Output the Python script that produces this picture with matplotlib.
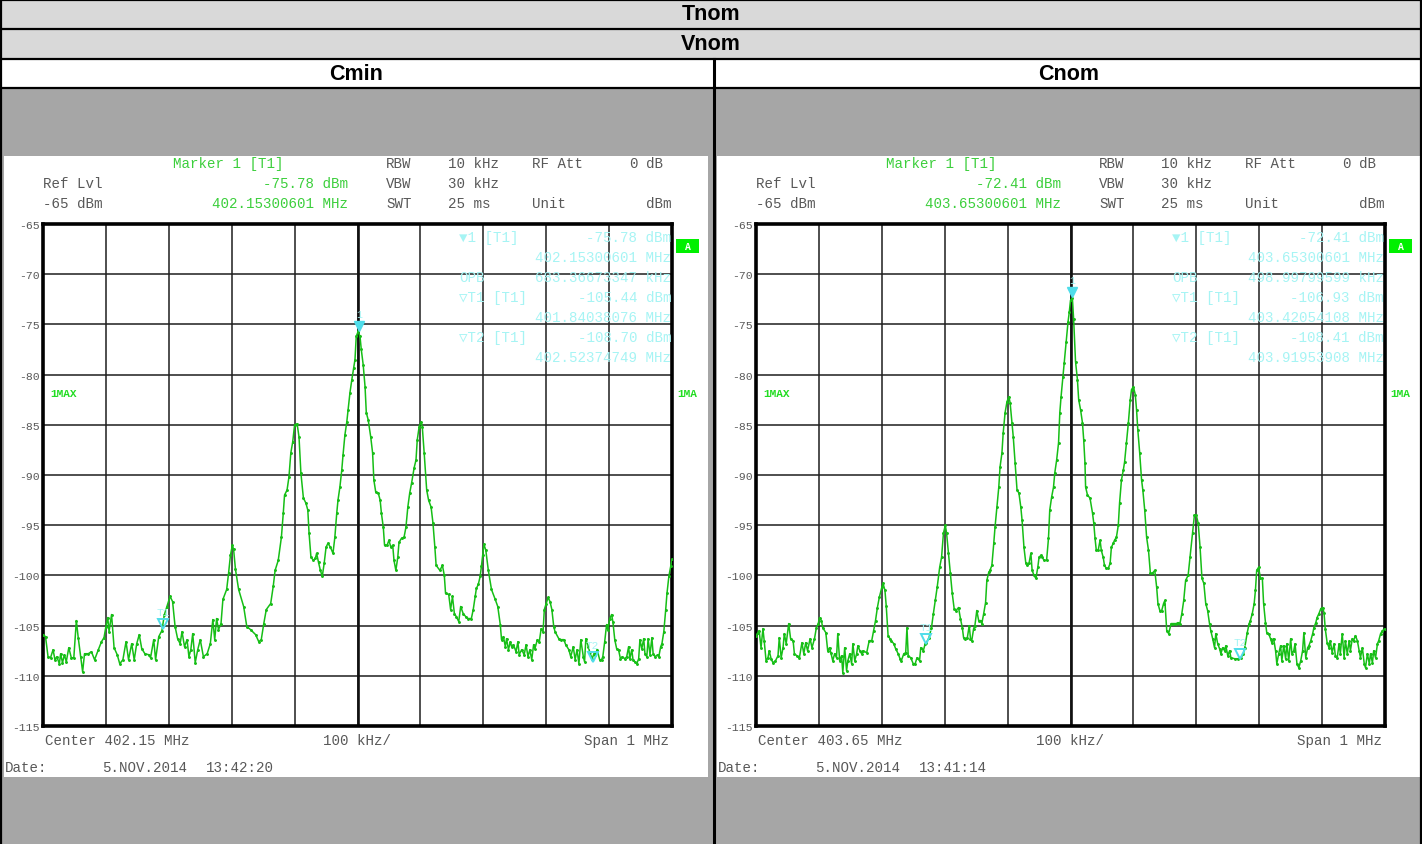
"""
Spectrum analyser screenshots (Tnom / Vnom, Cmin vs Cnom) redrawn with matplotlib.
"""
import matplotlib
matplotlib.use("Agg")
import matplotlib.pyplot as plt
from matplotlib.patches import Rectangle
from matplotlib.transforms import offset_copy

W, H = 1422, 845

# ── Data ──────────────────────────────────────────────────────────────────────
ROW_TITLES = ["Tnom", "Vnom"]
PANEL_TITLES = ["Cmin", "Cnom"]
CENTER_MHZ = [402.15, 403.65]
DATE_TEXT = "5.NOV.2014"
TIME_TEXT = ["13:42:20", "13:41:14"]
REF_LEVEL = -65
Y_TICKS = [-115, -110, -105, -100, -95, -90, -85, -80, -75, -70, -65]

MARKER1_MHZ = [402.15300601, 403.65300601]
MARKER1_DBM = [-75.78, -72.41]
T1_MHZ = [401.84038076, 403.42054108]
T1_DBM = [-105.44, -106.93]
T2_MHZ = [402.52374749, 403.91953908]
T2_DBM = [-108.70, -108.41]
OPB_KHZ = [683.36673347, 498.99799599]

# trace, Cmin (offset from centre in kHz, level in dBm)
CMIN_KHZ = [-500, -496, -492, -488, -484, -481, -478, -474, -472, -469, -466, -463,
            -459, -455, -451, -447, -444, -440, -437, -434, -428, -423, -418, -412,
            -407, -403, -400, -397, -395, -391, -387, -382, -378, -373, -368, -364,
            -359, -355, -351, -347, -343, -338, -332, -329, -324, -321, -316, -311,
            -307, -303, -298, -294, -290, -286, -282, -279, -275, -271, -268, -265,
            -262, -258, -254, -250, -245, -239, -234, -230, -227, -224, -221, -217,
            -214, -208, -205, -202, -199, -197, -194, -189, -181, -176, -170, -162,
            -157, -153, -149, -145, -138, -134, -131, -126, -121, -118, -116, -112,
            -109, -106, -103, -100, -96, -93, -90, -86, -82, -79, -77, -74,
            -70, -67, -65, -62, -59, -56, -53, -50, -47, -43, -39, -36,
            -33, -31, -28, -25, -23, -20, -17, -15, -12, -9, -6, -4,
            -2, 1, 4, 6, 9, 12, 14, 17, 21, 24, 26, 29,
            33, 36, 38, 41, 43, 47, 50, 53, 56, 58, 61, 64,
            66, 70, 74, 77, 80, 83, 86, 90, 93, 95, 98, 101,
            103, 106, 110, 113, 117, 120, 123, 125, 131, 135, 138, 140,
            145, 148, 151, 154, 157, 161, 164, 168, 172, 176, 181, 184,
            187, 189, 192, 195, 197, 199, 201, 204, 208, 213, 219, 223,
            227, 229, 232, 235, 237, 240, 243, 245, 248, 252, 255, 257,
            261, 265, 268, 271, 274, 277, 280, 282, 286, 289, 292, 295,
            297, 300, 303, 306, 309, 312, 314, 320, 323, 328, 331, 336,
            339, 343, 346, 349, 352, 355, 359, 361, 363, 367, 369, 373,
            376, 378, 381, 385, 388, 390, 393, 396, 398, 401, 404, 406,
            409, 412, 415, 418, 421, 425, 428, 431, 433, 436, 438, 441,
            444, 447, 449, 452, 455, 457, 460, 462, 465, 468, 470, 473,
            477, 479, 482, 484, 487, 490, 492, 495, 498, 500]
CMIN_DBM = [-105.9, -106.1, -108.1, -108.2, -107.4, -108.4, -108.1, -108.8, -107.8, -108.7, -107.9, -108.6,
            -107.2, -108.2, -108.2, -104.5, -106.2, -108.1, -109.6, -107.8, -107.8, -107.6, -108.4, -107.4,
            -106.6, -106.2, -105.1, -104.2, -105.6, -103.9, -107.2, -107.9, -108.8, -108.4, -106.6, -108.4,
            -106.8, -108.4, -106.8, -105.9, -107.3, -107.8, -107.9, -108.2, -106.4, -108.4, -106.1, -105.5,
            -103.9, -103.1, -102.1, -102.6, -105.1, -106.3, -106.8, -105.6, -107.1, -106.4, -108.1, -107.4,
            -105.8, -108.7, -107.4, -106.4, -108.1, -107.8, -106.8, -104.4, -106.4, -104.3, -105.4, -104.8,
            -102.4, -101.4, -99.8, -98.0, -97.0, -97.4, -99.4, -101.4, -103.1, -105.1, -105.4, -105.9,
            -106.6, -106.4, -104.8, -103.4, -102.8, -101.1, -99.5, -98.5, -96.2, -93.8, -92.0, -91.5,
            -90.2, -87.8, -86.7, -85.0, -84.9, -86.2, -89.8, -92.3, -92.8, -93.5, -95.8, -98.2,
            -98.5, -98.3, -97.8, -98.7, -99.5, -100.1, -98.8, -97.2, -96.8, -97.2, -97.8, -96.2,
            -93.8, -92.5, -91.2, -89.5, -88.0, -86.0, -84.7, -83.5, -81.8, -80.5, -79.3, -78.5,
            -76.2, -75.7, -76.2, -77.5, -79.0, -81.2, -83.8, -84.5, -86.2, -87.8, -90.5, -91.7,
            -91.8, -92.5, -93.8, -95.2, -97.0, -97.0, -96.5, -97.2, -97.0, -98.5, -99.5, -98.2,
            -96.7, -96.3, -96.2, -95.2, -93.2, -91.8, -90.8, -89.3, -88.5, -86.5, -85.2, -84.7,
            -85.2, -87.8, -91.5, -92.5, -93.2, -94.8, -97.2, -99.0, -99.5, -99.0, -100.0, -101.8,
            -101.9, -103.4, -102.1, -103.8, -104.1, -104.6, -103.1, -103.8, -104.1, -104.3, -104.3, -103.4,
            -102.1, -101.3, -100.9, -100.1, -99.1, -98.0, -96.9, -97.5, -99.5, -101.4, -102.4, -103.1,
            -104.9, -106.4, -106.1, -107.1, -106.3, -107.4, -106.6, -107.1, -106.9, -107.6, -106.6, -107.9,
            -107.4, -107.9, -106.9, -108.1, -107.4, -108.4, -106.9, -107.3, -106.4, -106.6, -105.3, -105.6,
            -103.4, -102.8, -102.2, -102.6, -103.4, -105.1, -105.6, -106.3, -106.4, -106.4, -106.9, -107.4,
            -108.1, -107.1, -108.4, -107.4, -108.8, -106.4, -108.1, -108.6, -106.3, -107.1, -107.6, -108.3,
            -107.8, -107.9, -107.4, -108.4, -108.4, -108.1, -106.6, -104.9, -105.4, -104.3, -103.9, -104.6,
            -106.4, -107.3, -107.4, -108.3, -108.1, -108.3, -108.1, -107.1, -108.3, -107.4, -108.4, -108.6,
            -108.8, -108.3, -106.4, -107.3, -106.3, -107.8, -108.1, -106.3, -107.9, -106.2, -107.8, -108.1,
            -107.9, -108.1, -107.1, -106.8, -105.6, -103.4, -101.8, -100.1, -99.1, -98.4]

# trace, Cnom
CNOM_KHZ = [-500, -497, -495, -492, -489, -487, -484, -481, -479, -476, -473, -469,
            -465, -463, -460, -457, -455, -452, -448, -445, -441, -439, -435, -431,
            -427, -424, -421, -418, -414, -411, -407, -404, -401, -399, -396, -394,
            -389, -386, -383, -381, -378, -375, -372, -370, -367, -364, -362, -359,
            -356, -354, -351, -348, -346, -343, -340, -338, -335, -332, -330, -324,
            -320, -316, -313, -310, -307, -304, -300, -298, -295, -293, -290, -287,
            -285, -281, -278, -274, -271, -269, -265, -262, -260, -258, -254, -250,
            -247, -244, -240, -238, -234, -231, -229, -225, -221, -218, -215, -212,
            -208, -205, -202, -199, -197, -194, -191, -188, -185, -182, -178, -175,
            -172, -170, -167, -164, -161, -159, -157, -154, -152, -149, -146, -143,
            -141, -138, -135, -133, -130, -128, -125, -122, -120, -117, -114, -112,
            -109, -107, -104, -101, -98, -96, -93, -91, -88, -85, -82, -79,
            -77, -74, -71, -69, -66, -63, -61, -58, -55, -52, -50, -47,
            -45, -42, -38, -35, -33, -30, -27, -25, -22, -19, -17, -15,
            -12, -10, -7, -4, -2, 0, 3, 5, 8, 11, 13, 16,
            19, 21, 23, 24, 27, 31, 35, 37, 39, 41, 44, 47,
            49, 52, 54, 57, 60, 63, 65, 68, 70, 73, 76, 78,
            81, 84, 86, 89, 92, 95, 97, 100, 103, 105, 107, 110,
            113, 115, 118, 121, 124, 127, 130, 134, 137, 139, 142, 145,
            148, 150, 153, 156, 160, 163, 168, 171, 174, 177, 180, 183,
            187, 190, 194, 197, 200, 203, 206, 209, 212, 215, 218, 221,
            223, 226, 229, 231, 234, 237, 239, 242, 245, 247, 250, 253,
            255, 261, 266, 271, 275, 277, 281, 284, 286, 289, 292, 294,
            296, 299, 302, 305, 307, 310, 312, 315, 318, 320, 323, 326,
            328, 331, 334, 336, 339, 342, 344, 347, 350, 352, 355, 357,
            360, 363, 366, 369, 371, 374, 377, 379, 382, 385, 387, 390,
            392, 395, 398, 401, 403, 405, 408, 411, 413, 416, 419, 421,
            424, 427, 429, 432, 435, 437, 440, 443, 445, 448, 450, 453,
            456, 459, 461, 464, 467, 469, 472, 475, 477, 480, 482, 485,
            488, 490, 493, 496, 500]
CNOM_DBM = [-106.0, -105.7, -105.5, -107.2, -105.3, -106.5, -108.5, -108.2, -107.5, -108.3, -108.7, -108.5,
            -108.0, -106.2, -108.2, -107.2, -105.8, -106.8, -104.8, -106.3, -106.5, -107.8, -108.0, -108.2,
            -106.7, -107.8, -106.7, -107.5, -106.3, -107.2, -106.3, -105.2, -104.8, -104.2, -104.5, -105.2,
            -105.7, -107.5, -107.2, -107.7, -108.5, -107.8, -108.2, -105.8, -108.5, -108.0, -109.7, -107.2,
            -109.5, -108.5, -107.8, -108.8, -106.8, -108.5, -107.8, -107.0, -107.5, -107.8, -107.5, -107.7,
            -106.5, -106.5, -105.5, -104.5, -103.2, -102.2, -101.2, -100.8, -101.5, -103.0, -106.0, -106.3,
            -106.5, -106.8, -107.3, -107.8, -108.3, -108.5, -107.8, -107.7, -105.2, -108.0, -108.2, -108.8,
            -108.8, -108.2, -108.5, -107.2, -107.5, -106.8, -106.7, -106.2, -105.2, -103.8, -102.5, -101.2,
            -99.2, -98.2, -95.8, -95.0, -95.8, -97.8, -99.8, -101.8, -103.3, -103.5, -103.2, -104.3,
            -105.2, -106.2, -106.3, -106.2, -105.0, -106.3, -106.5, -105.3, -105.0, -103.5, -104.5, -104.5,
            -104.8, -103.8, -102.7, -100.5, -99.7, -99.5, -99.0, -96.8, -95.2, -93.2, -91.2, -89.2,
            -87.8, -85.8, -83.8, -82.7, -82.2, -82.8, -84.8, -86.2, -88.8, -91.5, -91.8, -93.2,
            -94.5, -97.2, -98.8, -99.0, -98.8, -97.8, -99.5, -100.0, -100.3, -99.2, -98.2, -98.0,
            -98.2, -98.5, -98.5, -96.3, -93.5, -92.2, -91.2, -89.8, -88.5, -86.8, -83.8, -82.2,
            -80.2, -78.8, -76.8, -74.8, -73.8, -72.6, -72.4, -74.5, -78.7, -80.5, -82.5, -83.5,
            -84.8, -86.5, -88.8, -91.2, -92.0, -92.3, -93.8, -94.8, -96.3, -97.5, -97.5, -96.5,
            -97.5, -98.2, -99.0, -99.3, -99.3, -98.8, -97.2, -96.8, -96.5, -96.2, -95.0, -92.8,
            -90.5, -89.5, -88.7, -86.8, -84.8, -82.5, -81.5, -81.2, -82.0, -83.5, -85.5, -87.8,
            -90.5, -91.5, -93.5, -96.2, -97.5, -99.8, -99.8, -99.5, -101.2, -102.8, -103.5, -103.5,
            -102.8, -102.5, -105.5, -105.8, -104.8, -104.8, -104.8, -104.7, -104.8, -103.8, -102.5, -100.5,
            -100.0, -98.2, -95.8, -94.0, -94.0, -94.8, -97.2, -100.3, -100.8, -102.8, -103.5, -104.8,
            -105.5, -106.3, -107.2, -105.8, -106.8, -107.3, -107.8, -107.2, -107.5, -107.0, -108.0, -107.5,
            -108.2, -108.3, -108.3, -108.2, -107.8, -107.2, -105.7, -104.8, -104.5, -103.8, -102.8, -101.5,
            -99.5, -99.2, -100.3, -100.3, -102.8, -104.7, -105.7, -105.8, -106.3, -106.7, -106.3, -107.5,
            -108.8, -107.8, -107.0, -108.5, -107.0, -108.3, -106.8, -108.5, -106.3, -107.8, -107.5, -106.8,
            -108.8, -109.2, -108.5, -107.5, -105.7, -108.2, -107.2, -107.0, -106.5, -105.8, -105.2, -104.7,
            -104.2, -103.8, -103.3, -103.2, -103.7, -105.3, -106.7, -107.2, -106.5, -107.7, -106.8, -108.0,
            -108.2, -106.8, -107.8, -105.8, -108.2, -106.5, -107.8, -106.5, -107.5, -106.3, -106.5, -106.0,
            -106.5, -107.5, -108.2, -107.2, -108.8, -109.2, -107.8, -108.8, -107.8, -108.7, -107.5, -108.2,
            -106.8, -106.5, -105.8, -105.5, -105.3]

TRACES_KHZ = [CMIN_KHZ, CNOM_KHZ]
TRACES_DBM = [CMIN_DBM, CNOM_DBM]

# ── Styling ───────────────────────────────────────────────────────────────────
MONO = ["Liberation Mono", "DejaVu Sans Mono", "DejaVu Sans"]
SANS = "Liberation Sans"
C_TRACE = "#16BE16"
C_GREEN_TXT = "#3CCF3C"
C_GRAY_TXT = "#585858"
C_CYAN_TXT = "#A6F4F4"
C_CYAN_MK = "#4FDDEA"
FS = 10.2

fig = plt.figure(figsize=(W / 100, H / 100), dpi=100)
bg = fig.add_axes([0, 0, 1, 1])
bg.set_xlim(0, W)
bg.set_ylim(H, 0)
bg.axis("off")

# ── Table frame ───────────────────────────────────────────────────────────────
bg.add_patch(Rectangle((0, 0), W, 60, color="#D9D9D9", lw=0))
bg.add_patch(Rectangle((0, 60), W, 29, color="white", lw=0))
bg.add_patch(Rectangle((0, 89), W, H - 89, color="#A6A6A6", lw=0))
for y in [1, 30, 60, 89]:
    bg.plot([0, W], [y, y], color="black", lw=1.6, solid_capstyle="butt")
bg.plot([1, 1], [0, H], color="black", lw=1.6)
bg.plot([W - 1, W - 1], [0, H], color="black", lw=1.6)
bg.plot([714, 714], [60, H], color="black", lw=2.2)

for i, title in enumerate(ROW_TITLES):
    bg.text(W / 2, 15 + 30 * i, title, ha="center", va="center",
            family=SANS, fontweight="bold", fontsize=15.5)


def draw_panel(i, dx):
    c = CENTER_MHZ[i]
    bg.text(dx + 356, 74, PANEL_TITLES[i], ha="center", va="center",
            family=SANS, fontweight="bold", fontsize=15.5)
    bg.add_patch(Rectangle((dx + 4, 157), 704, 621, color="white", lw=0))

    # instrument header lines
    def t(x, y, s, col=C_GRAY_TXT, ha="left", ax=bg, **kw):
        kw.setdefault("fontsize", FS)
        ax.text(dx + x, y, s, ha=ha, va="center", family=MONO,
                color=col, transform=bg.transData, **kw)

    t(173, 164, "Marker 1 [T1]", C_GREEN_TXT)
    t(348, 184, f"{MARKER1_DBM[i]:.2f} dBm", C_GREEN_TXT, ha="right")
    t(348, 204, f"{MARKER1_MHZ[i]:.8f} MHz", C_GREEN_TXT, ha="right")
    t(43, 184, "Ref Lvl")
    t(43, 204, f"{REF_LEVEL} dBm")
    t(386, 164, "RBW")
    t(448, 164, "10 kHz")
    t(532, 164, "RF Att")
    t(638, 164, "0", ha="right")
    t(646, 164, "dB")
    t(386, 184, "VBW")
    t(448, 184, "30 kHz")
    t(386, 204, "SWT")
    t(448, 204, "25 ms")
    t(532, 204, "Unit")
    t(646, 204, "dBm")
    t(45, 741, f"Center {c:.2f} MHz")
    t(323, 741, "100 kHz/")
    t(669, 741, "Span 1 MHz", ha="right")
    t(5, 768, "Date:")
    t(102, 768, DATE_TEXT)
    t(206, 768, TIME_TEXT[i])

    # side annotations outside the grid
    bg.text(dx + 677, 394, "1MA", ha="left", va="center", family=MONO,
            fontsize=8, fontweight="bold", color="#22DD22")
    bg.add_patch(Rectangle((dx + 676, 240), 23, 14, color="#00F000", lw=0))
    bg.text(dx + 687.5, 247.5, "A", ha="center", va="center", family=MONO,
            fontsize=7, fontweight="bold", color="white")

    # spectrum grid
    x0, x1, y0, y1 = dx + 43, dx + 672, 225, 727
    ax = fig.add_axes([x0 / W, 1 - y1 / H, (x1 - x0) / W, (y1 - y0) / H])
    ax.set_xlim(c - 0.5, c + 0.5)
    ax.set_ylim(Y_TICKS[0], Y_TICKS[-1])
    ax.set_xticks([c - 0.5 + 0.1 * k for k in range(11)])
    ax.set_yticks(Y_TICKS)
    ax.set_yticklabels([str(v) for v in Y_TICKS])
    ax.tick_params(length=0, labelbottom=False, pad=2.5, labelsize=8.2,
                   labelcolor=C_GRAY_TXT)
    for lab in ax.get_yticklabels():
        lab.set_family(MONO)
    ax.grid(True, color="#1E1E1E", lw=1.1)
    ax.axvline(c, color="#111111", lw=1.9)
    for sp in ax.spines.values():
        sp.set_linewidth(2.6)
        sp.set_color("black")
    ax.set_axisbelow(True)

    f = [c + k / 1000 for k in TRACES_KHZ[i]]
    ax.plot(f, TRACES_DBM[i], color=C_TRACE, lw=1.1, marker=".", ms=2.2, zorder=3)

    # markers on the trace
    up = offset_copy(ax.transData, fig=fig, x=0, y=6, units="dots")
    lab = offset_copy(ax.transData, fig=fig, x=0, y=18, units="dots")
    ax.plot([MARKER1_MHZ[i]], [MARKER1_DBM[i]], marker="v", ms=7.5,
            color=C_CYAN_MK, transform=up, zorder=4)
    ax.text(MARKER1_MHZ[i], MARKER1_DBM[i], "1", transform=lab, ha="center",
            va="center", family=MONO, fontsize=7, color=C_CYAN_TXT)
    for name, fm, lv in [("T1", T1_MHZ[i], T1_DBM[i]), ("T2", T2_MHZ[i], T2_DBM[i])]:
        ax.plot([fm], [lv], marker="v", ms=7, mfc="none", mec=C_CYAN_MK, mew=1.4,
                transform=up, zorder=4)
        ax.text(fm, lv, name, transform=lab, ha="center", va="center",
                family=MONO, fontsize=8, color=C_CYAN_TXT, zorder=4)

    # marker info block inside the grid
    rows = [("\u25BC1 [T1]", f"{MARKER1_DBM[i]:.2f} dBm"),
            ("", f"{MARKER1_MHZ[i]:.8f} MHz"),
            ("OPB", f"{OPB_KHZ[i]:.8f} kHz"),
            ("\u25BDT1 [T1]", f"{T1_DBM[i]:.2f} dBm"),
            ("", f"{T1_MHZ[i]:.8f} MHz"),
            ("\u25BDT2 [T1]", f"{T2_DBM[i]:.2f} dBm"),
            ("", f"{T2_MHZ[i]:.8f} MHz")]
    for r, (left, right) in enumerate(rows):
        y = 238 + 20 * r
        if left:
            t(459, y, left, C_CYAN_TXT, ax=ax, zorder=5)
        t(671, y, right, C_CYAN_TXT, ha="right", ax=ax, zorder=5)
    t(50, 394, "1MAX", "#22DD22", ax=ax, zorder=5, fontsize=8,
      fontweight="bold")


draw_panel(0, 0)
draw_panel(1, 713)

fig.savefig("out.png", dpi=100)
